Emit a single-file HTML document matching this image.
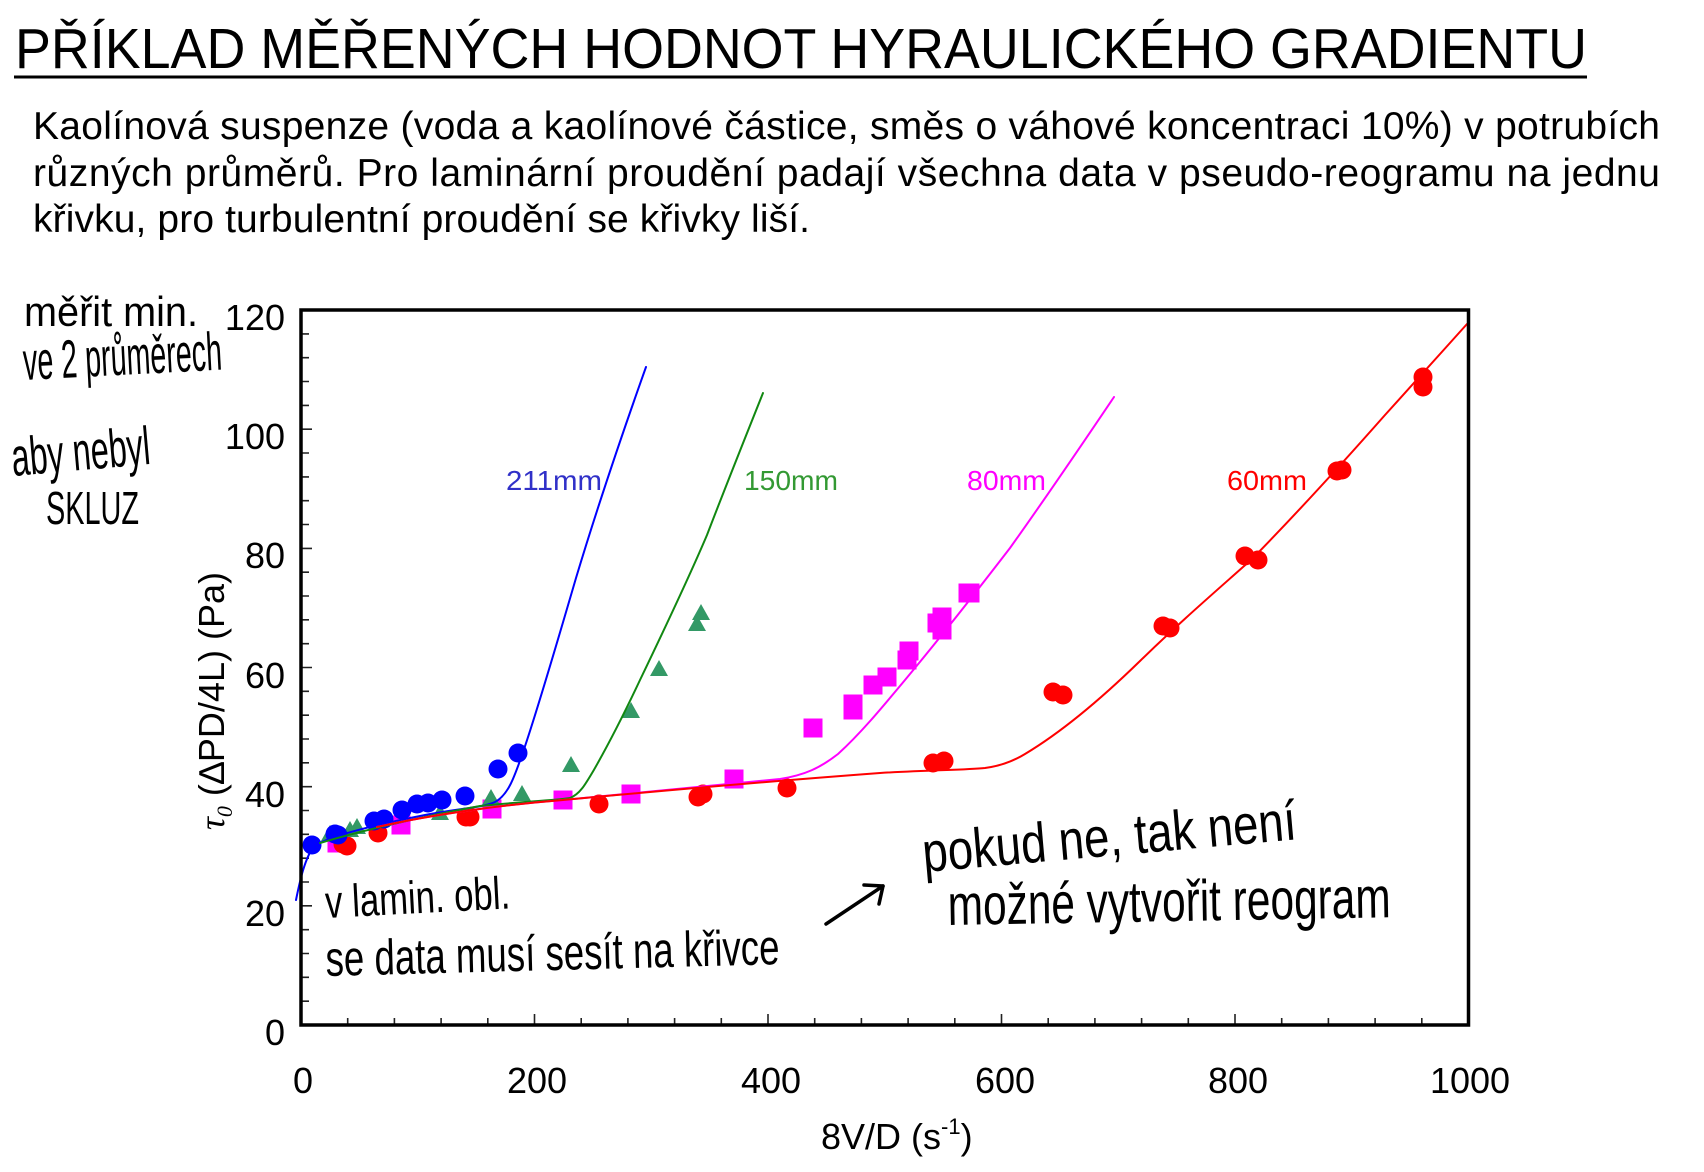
<!DOCTYPE html>
<html>
<head>
<meta charset="utf-8">
<style>
html,body{margin:0;padding:0;background:#fff;}
svg{display:block;}
text{font-family:"Liberation Sans",Arial,sans-serif;}
.hw{font-family:"Liberation Sans",sans-serif;fill:#000;}
</style>
</head>
<body>
<svg width="1704" height="1172" viewBox="0 0 1704 1172" xmlns="http://www.w3.org/2000/svg">
<rect x="0" y="0" width="1704" height="1172" fill="#fff"/>

<!-- Title -->
<text x="15" y="68" font-size="57" fill="#000" textLength="1572" lengthAdjust="spacingAndGlyphs">PŘÍKLAD MĚŘENÝCH HODNOT HYRAULICKÉHO GRADIENTU</text>
<rect x="14" y="75.5" width="1573" height="3" fill="#000"/>

<!-- Paragraph -->
<text x="33" y="139" font-size="39" fill="#000" textLength="1627" lengthAdjust="spacing">Kaolínová suspenze (voda a kaolínové částice, směs o váhové koncentraci 10%) v potrubích</text>
<text x="33" y="186" font-size="39" fill="#000" textLength="1627" lengthAdjust="spacing">různých průměrů. Pro laminární proudění padají všechna data v pseudo-reogramu na jednu</text>
<text x="33" y="232" font-size="39" fill="#000" textLength="777" lengthAdjust="spacing">křivku, pro turbulentní proudění se křivky liší.</text>

<!-- Handwritten notes left -->
<text class="hw" x="24" y="326" font-size="42" textLength="174" lengthAdjust="spacingAndGlyphs">měřit min.</text>
<text class="hw" x="24" y="380" font-size="54" textLength="199" lengthAdjust="spacingAndGlyphs" transform="rotate(-3 24 380)">ve 2 průměrech</text>
<text class="hw" x="13" y="476" font-size="54" textLength="139" lengthAdjust="spacingAndGlyphs" transform="rotate(-5 13 476)">aby nebyl</text>
<text class="hw" x="46" y="524" font-size="46" textLength="93" lengthAdjust="spacingAndGlyphs">SKLUZ</text>

<!-- Plot ticks -->
<g stroke="#222" stroke-width="1.6">
  <path d="M301 1001.2h8M301 977.3h8M301 953.5h8M301 929.7h8M301 905.8h11M301 882h8M301 858.2h8M301 834.3h8M301 810.5h8M301 786.7h11M301 762.8h8M301 739h8M301 715.2h8M301 691.3h8M301 667.5h11M301 643.7h8M301 619.8h8M301 596h8M301 572.2h8M301 548.4h11M301 524.5h8M301 500.7h8M301 476.9h8M301 453h8M301 429.2h11M301 405.4h8M301 381.5h8M301 357.7h8M301 333.9h8"/>
  <path d="M347.7 1025v-7M394.4 1025v-7M441.1 1025v-7M487.8 1025v-7M534.5 1025v-11M581.2 1025v-7M627.9 1025v-7M674.6 1025v-7M721.3 1025v-7M768 1025v-11M814.7 1025v-7M861.4 1025v-7M908.1 1025v-7M954.8 1025v-7M1001.5 1025v-11M1048.2 1025v-7M1094.9 1025v-7M1141.6 1025v-7M1188.3 1025v-7M1235 1025v-11M1281.7 1025v-7M1328.4 1025v-7M1375.1 1025v-7M1421.8 1025v-7"/>
</g>

<!-- Markers: magenta squares -->
<g fill="#ff00ff">
  <rect x="327.5" y="833.5" width="19" height="19"/>
  <rect x="391.5" y="815.5" width="19" height="19"/>
  <rect x="482.5" y="799.5" width="19" height="19"/>
  <rect x="553.5" y="790.5" width="19" height="19"/>
  <rect x="621.5" y="784.5" width="19" height="19"/>
  <rect x="724.5" y="769.5" width="19" height="19"/>
  <rect x="803.5" y="718.5" width="19" height="19"/>
  <rect x="843.5" y="694.5" width="19" height="19"/>
  <rect x="843.5" y="700.5" width="19" height="19"/>
  <rect x="863.5" y="675.5" width="19" height="19"/>
  <rect x="877.5" y="667.5" width="19" height="19"/>
  <rect x="897.5" y="650.5" width="19" height="19"/>
  <rect x="899.5" y="641.5" width="19" height="19"/>
  <rect x="927.5" y="613.5" width="19" height="19"/>
  <rect x="932.5" y="607.5" width="19" height="19"/>
  <rect x="932.5" y="620.5" width="19" height="19"/>
  <rect x="958.5" y="583.5" width="19" height="19"/>
  <rect x="960.5" y="583.5" width="19" height="19"/>
</g>

<!-- Markers: red circles -->
<g fill="#ff0000">
  <circle cx="343" cy="844" r="9.5"/><circle cx="347" cy="846" r="9.5"/>
  <circle cx="378" cy="833" r="9.5"/>
  <circle cx="466" cy="817" r="9.5"/><circle cx="470" cy="817" r="9.5"/>
  <circle cx="599" cy="804" r="9.5"/>
  <circle cx="698" cy="797" r="9.5"/><circle cx="703" cy="794" r="9.5"/>
  <circle cx="787" cy="788" r="9.5"/>
  <circle cx="933" cy="763" r="9.5"/><circle cx="944" cy="761" r="9.5"/>
  <circle cx="1053" cy="692" r="9.5"/><circle cx="1063" cy="695" r="9.5"/>
  <circle cx="1163" cy="626" r="9.5"/><circle cx="1170" cy="628" r="9.5"/>
  <circle cx="1245" cy="556" r="9.5"/><circle cx="1258" cy="560" r="9.5"/>
  <circle cx="1337" cy="471" r="9.5"/><circle cx="1342" cy="470" r="9.5"/>
  <circle cx="1423" cy="377" r="9.5"/><circle cx="1423" cy="387" r="9.5"/>
</g>

<!-- Markers: green triangles -->
<g fill="#339966">
  <path d="M330 825l9 16h-18z"/>
  <path d="M350 821l9 16h-18z"/>
  <path d="M357 818l9 16h-18z"/>
  <path d="M440 804l9 16h-18z"/>
  <path d="M491 789l9 16h-18z"/>
  <path d="M522 785l9 16h-18z"/>
  <path d="M571 756l9 16h-18z"/>
  <path d="M631 702l9 16h-18z"/>
  <path d="M659 660l9 16h-18z"/>
  <path d="M697 615l9 16h-18z"/>
  <path d="M701 604l9 16h-18z"/>
</g>

<!-- Markers: blue circles -->
<g fill="#0000ff">
  <circle cx="312" cy="845" r="9.5"/>
  <circle cx="335" cy="834" r="9.5"/><circle cx="338" cy="835" r="9.5"/>
  <circle cx="374" cy="821" r="9.5"/><circle cx="384" cy="819" r="9.5"/>
  <circle cx="402" cy="810" r="9.5"/><circle cx="417" cy="804" r="9.5"/>
  <circle cx="428" cy="803" r="9.5"/><circle cx="442" cy="800" r="9.5"/>
  <circle cx="465" cy="796" r="9.5"/>
  <circle cx="498" cy="769" r="9.5"/>
  <circle cx="518" cy="753" r="9.5"/>
</g>

<!-- Curves (smooth) -->
<g fill="none" stroke-width="2" stroke-linejoin="round" stroke-linecap="round">
  <path stroke="#0000ff" d="M296 900 C300 880 305 858 314 846 C330 836 370 826 420 816 C460 808 482 808 495 802 C508 795 514 778 522 755 C535 718 555 650 576 578 C595 515 620 440 646 367"/>
  <path stroke="#118811" d="M320 843 C360 831 420 817 480 806 C530 801 560 800 570 798 C580 794 585 785 595 768 C612 738 625 712 640 680 C665 628 690 575 707 535 C725 488 745 438 763 393"/>
  <path stroke="#ff00ff" d="M377 827 C430 815 500 805 563 800 C650 792 720 785 780 779 C805 775 820 768 838 754 C860 734 880 710 905 680 C940 638 980 587 1010 548 C1050 492 1085 440 1114 397"/>
  <path stroke="#ff0000" d="M377 827 C430 815 500 805 563 800 C680 789 800 779 880 773 C930 770 965 770 985 768 C1000 766 1012 762 1025 754 C1060 733 1100 700 1140 661 C1180 622 1215 592 1252 559 C1300 510 1340 466 1385 415 C1415 382 1440 354 1467 324"/>
</g>

<!-- Series labels -->
<text x="506" y="490" font-size="28" fill="#3030c8" textLength="96" lengthAdjust="spacingAndGlyphs">211mm</text>
<text x="744" y="490" font-size="28" fill="#339933" textLength="94" lengthAdjust="spacingAndGlyphs">150mm</text>
<text x="967" y="490" font-size="28" fill="#ff00ff" textLength="79" lengthAdjust="spacingAndGlyphs">80mm</text>
<text x="1227" y="490" font-size="28" fill="#ff0000" textLength="80" lengthAdjust="spacingAndGlyphs">60mm</text>

<!-- Plot frame -->
<rect x="301" y="310" width="1167.5" height="715" fill="none" stroke="#000" stroke-width="3.5"/>

<!-- Y tick labels -->
<g font-size="36" fill="#000" text-anchor="end">
  <text x="285" y="1045">0</text>
  <text x="285" y="926">20</text>
  <text x="285" y="807">40</text>
  <text x="285" y="688">60</text>
  <text x="285" y="568">80</text>
  <text x="285" y="449">100</text>
  <text x="285" y="330">120</text>
</g>

<!-- X tick labels -->
<g font-size="36" fill="#000" text-anchor="middle">
  <text x="303" y="1093">0</text>
  <text x="537" y="1093">200</text>
  <text x="771" y="1093">400</text>
  <text x="1005" y="1093">600</text>
  <text x="1238" y="1093">800</text>
  <text x="1470" y="1093">1000</text>
</g>

<!-- X axis title -->
<text x="821" y="1149" font-size="36" fill="#000">8V/D (s<tspan font-size="22" dy="-15">-1</tspan><tspan font-size="36" dy="15">)</tspan></text>

<!-- Y axis title -->
<text transform="translate(224,830) rotate(-90)" font-size="36" fill="#000"><tspan font-family="Liberation Serif,serif" font-style="italic">τ</tspan><tspan font-family="Liberation Serif,serif" font-style="italic" font-size="22" dy="8">0</tspan><tspan dy="-8"> (∆PD/4L) (Pa)</tspan></text>

<!-- Handwritten notes in plot -->
<text class="hw" x="326" y="918" font-size="46" textLength="185" lengthAdjust="spacingAndGlyphs" transform="rotate(-3 326 918)">v lamin. obl.</text>
<text class="hw" x="326" y="976" font-size="50" textLength="454" lengthAdjust="spacingAndGlyphs" transform="rotate(-1.5 326 976)">se data musí sesít na křivce</text>
<g stroke="#000" stroke-width="3.5" fill="none" stroke-linecap="round" stroke-linejoin="round">
  <path d="M826 924 L883 886"/>
  <path d="M864 885 L883 886 L879 904"/>
</g>
<text class="hw" x="924" y="872" font-size="56" textLength="375" lengthAdjust="spacingAndGlyphs" transform="rotate(-5 924 872)">pokud ne, tak není</text>
<text class="hw" x="948" y="925" font-size="58" textLength="443" lengthAdjust="spacingAndGlyphs" transform="rotate(-1 948 925)">možné vytvořit reogram</text>

</svg>
</body>
</html>
